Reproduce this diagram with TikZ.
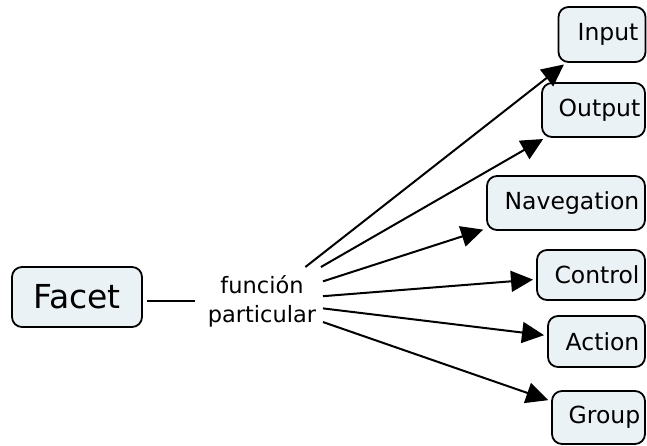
\documentclass[tikz,border=0pt]{standalone}
\usepackage{fontspec}
\setmainfont{DejaVu Sans}
\usetikzlibrary{arrows.meta}
\definecolor{boxfill}{HTML}{EBF2F5}
\begin{document}
\begin{tikzpicture}[x=1pt,y=-1pt,
  concept/.style={draw=black, line width=1.8pt, rounded corners=10pt, fill=boxfill,
    inner sep=0pt, outer sep=0pt, font=\fontsize{23.5}{27}\selectfont},
  link/.style={line width=2pt, -{Triangle[length=22pt,width=21pt]}, shorten >=4pt}]
\useasboundingbox (0,0) rectangle (647,445);
\node[concept, minimum width=130pt, minimum height=60pt, font=\fontsize{33}{36}\selectfont] (facet) at (77,297) {Facet};
\node[inner sep=0pt, outer sep=0pt, minimum width=122pt, minimum height=68pt, align=center,
  font=\fontsize{22.5}{29}\selectfont] (lab) at (262,301) {función\\particular};
\node[concept, minimum width=87pt, minimum height=55pt] (input) at (602,34.5) {\hspace*{12pt}Input};
\node[concept, minimum width=103pt, minimum height=54pt] (output) at (593.5,110) {\hspace*{12pt}Output};
\node[concept, minimum width=158pt, minimum height=54pt] (nav) at (566,203) {\hspace*{12pt}Navegation};
\node[concept, minimum width=108pt, minimum height=50pt] (control) at (591,275) {\hspace*{12pt}Control};
\node[concept, minimum width=97pt, minimum height=51pt] (action) at (596.5,341.5) {\hspace*{12pt}Action};
\node[concept, minimum width=93pt, minimum height=53pt] (group) at (598.5,417.5) {\hspace*{12pt}Group};
\draw[line width=2pt, shorten <=5pt, shorten >=6pt] (facet.east |- lab) -- (lab.west);
\draw[link] (lab) -- (input);
\draw[link] (lab) -- (output);
\draw[link] (lab) -- (nav);
\draw[link] (lab) -- (control);
\draw[link] (lab) -- (action);
\draw[link] (lab) -- (group);
\end{tikzpicture}
\end{document}
